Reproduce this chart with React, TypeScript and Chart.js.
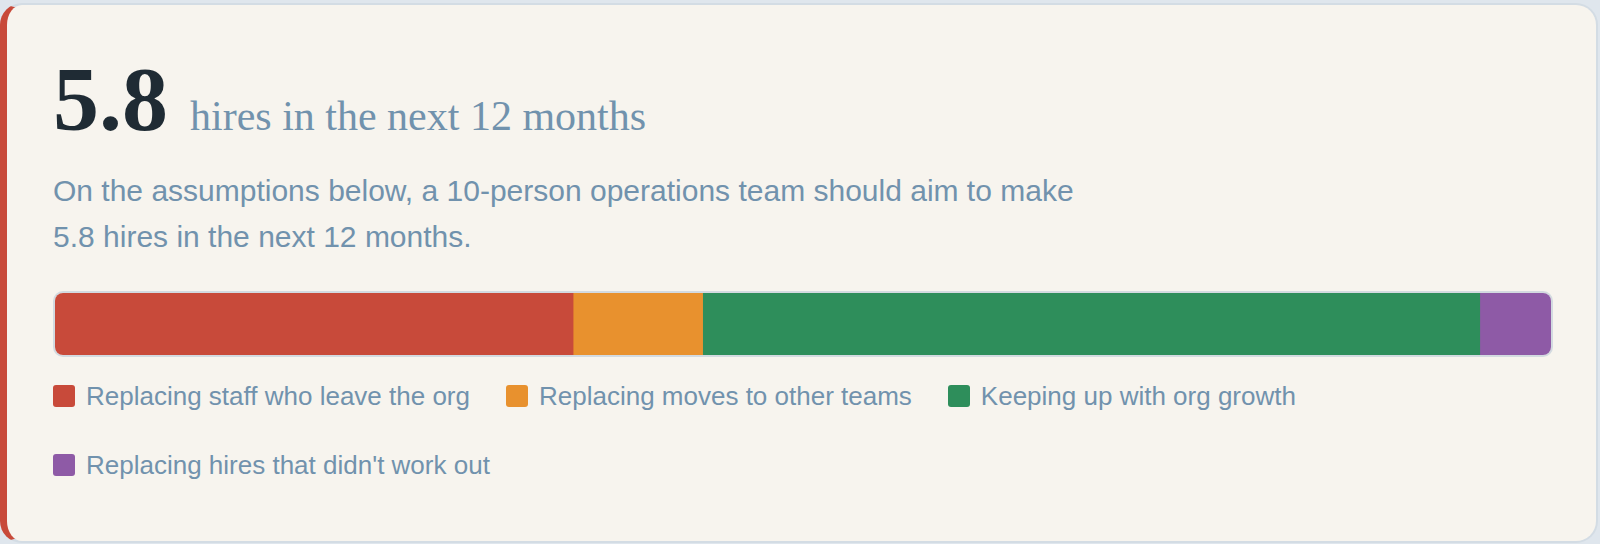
import React, { useEffect, useRef } from "react";
import { Chart, registerables } from "chart.js";

Chart.register(...registerables);

const teamSize = 10;
const categories = ["Hires"];
const seriesLabels = [
  "Replacing staff who leave the org",
  "Replacing moves to other teams",
  "Keeping up with org growth",
  "Replacing hires that didn't work out",
];
const seriesValues = [2.0, 0.5, 3.0, 0.275];
const seriesColors = ["#c84a3a", "#e8912e", "#2e8e5b", "#8e5aa6"];

const total = seriesValues.reduce((a, b) => a + b, 0);
const totalLabel = total.toFixed(1);

const SANS = '"Liberation Sans", Arial, sans-serif';
const SERIF = '"Liberation Serif", "Times New Roman", serif';
const MUTED = "#7192ad";

export default function App() {
  const canvasRef = useRef<HTMLCanvasElement | null>(null);

  useEffect(() => {
    document.body.style.margin = "0";
    document.body.style.background = "#dfe6ed";
    const canvas = canvasRef.current;
    if (!canvas) return;
    const chart = new Chart(canvas, {
      type: "bar",
      data: {
        labels: categories,
        datasets: seriesLabels.map((label, i) => ({
          label,
          data: [seriesValues[i]],
          backgroundColor: seriesColors[i],
          borderWidth: 0,
          barPercentage: 1,
          categoryPercentage: 1,
        })),
      },
      options: {
        indexAxis: "y",
        animation: false,
        responsive: true,
        maintainAspectRatio: false,
        layout: { padding: 0 },
        scales: {
          x: { stacked: true, min: 0, max: total, display: false, grid: { display: false } },
          y: { stacked: true, display: false, grid: { display: false } },
        },
        plugins: {
          legend: { display: false },
          tooltip: { enabled: false },
        },
      },
    });
    return () => chart.destroy();
  }, []);

  return (
    <div
      style={{
        position: "absolute",
        left: 0,
        top: 3,
        width: 1598,
        height: 540,
        boxSizing: "border-box",
        background: "#f7f4ee",
        border: "2px solid #d3dce4",
        borderLeft: "7px solid #c84a3a",
        borderRadius: 22,
        padding: "48px 43px 0 46px",
      }}
    >
      <div style={{ lineHeight: 1, height: 92, whiteSpace: "nowrap" }}>
        <span style={{ fontFamily: SERIF, fontWeight: 700, fontSize: 92, color: "#1f2b34" }}>
          {totalLabel}
        </span>
        <span style={{ fontFamily: SERIF, fontSize: 42, color: MUTED, marginLeft: 22 }}>
          hires in the next 12 months
        </span>
      </div>
      <div
        style={{
          marginTop: 22.5,
          fontFamily: SANS,
          fontSize: 30,
          lineHeight: "46px",
          color: MUTED,
          maxWidth: 1060,
        }}
      >
        On the assumptions below, a {teamSize}-person operations team should aim to make {totalLabel} hires in
        the next 12 months.
      </div>
      <div
        style={{
          marginTop: 31,
          width: 1500,
          height: 66,
          boxSizing: "border-box",
          border: "2px solid #d3dae0",
          borderRadius: 10,
          overflow: "hidden",
        }}
      >
        <div style={{ position: "relative", width: 1496, height: 62 }}>
          <canvas ref={canvasRef} />
        </div>
      </div>
      <div
        style={{
          marginTop: 23.5,
          display: "flex",
          flexWrap: "wrap",
          columnGap: 36,
          rowGap: 36.5,
          width: 1500,
        }}
      >
        {seriesLabels.map((label, i) => (
          <div key={label} style={{ display: "flex", alignItems: "center", height: 32 }}>
            <span
              style={{
                width: 22,
                height: 22,
                borderRadius: 3,
                background: seriesColors[i],
                marginRight: 11,
                flex: "none",
              }}
            />
            <span style={{ fontFamily: SANS, fontSize: 26, lineHeight: "32px", color: MUTED, whiteSpace: "nowrap" }}>
              {label}
            </span>
          </div>
        ))}
      </div>
    </div>
  );
}
